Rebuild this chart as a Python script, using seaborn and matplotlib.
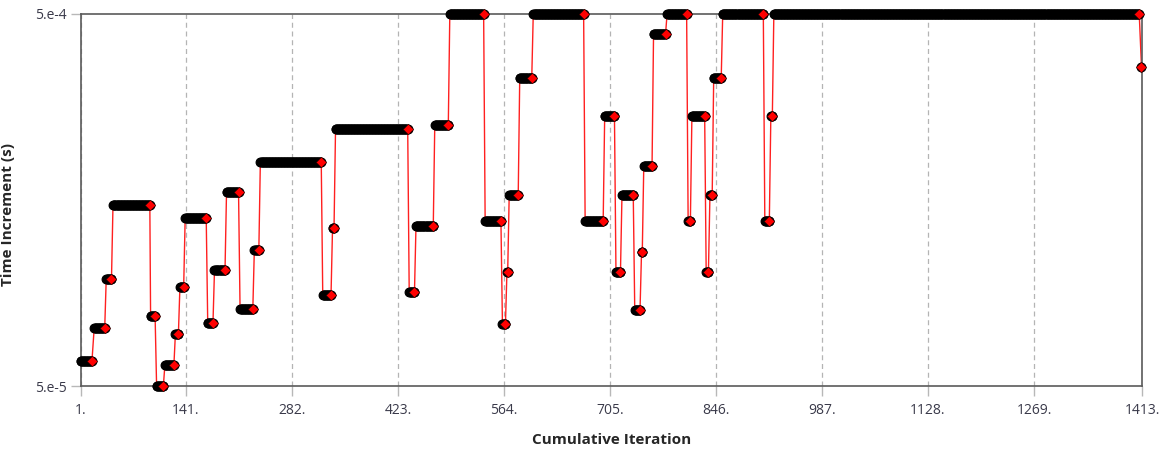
import numpy as np
import pandas as pd
import matplotlib
matplotlib.use("Agg")
import matplotlib.pyplot as plt
from matplotlib.ticker import FixedLocator, NullLocator, FixedFormatter
import seaborn as sns

# Sub-steps of the solve: first and last cumulative iteration of each
# sub-step and the time increment it used (s).
substep_first = [1, 19, 35, 44, 94, 102, 113, 127, 133, 140, 170, 179, 195, 213, 232, 240,
                 323, 336, 340, 438, 447, 472, 492, 539, 562, 568, 571, 585, 603, 672, 698, 713,
                 721, 738, 747, 750, 763, 781, 809, 814, 833, 838, 843, 855, 911, 919, 923, 1412]
substep_last = [16, 33, 42, 93, 100, 111, 125, 131, 138, 168, 177, 193, 211, 230, 238, 321,
                334, 338, 436, 445, 470, 490, 537, 560, 566, 569, 583, 601, 670, 696, 711, 719,
                736, 745, 748, 761, 779, 807, 812, 831, 836, 841, 853, 909, 917, 921, 1409, 1412]
time_increment = [5.83e-5, 7.16e-5, 9.70e-5, 1.536e-4, 7.73e-5, 5.0e-5, 5.69e-5, 6.90e-5,
                  9.21e-5, 1.414e-4, 7.40e-5, 1.023e-4, 1.659e-4, 8.07e-5, 1.161e-4, 2.0e-4,
                  8.78e-5, 1.327e-4, 2.454e-4, 8.93e-5, 1.344e-4, 2.52e-4, 5.0e-4, 1.391e-4,
                  7.34e-5, 1.014e-4, 1.631e-4, 3.365e-4, 5.0e-4, 1.391e-4, 2.655e-4, 1.014e-4,
                  1.631e-4, 8.0e-5, 1.144e-4, 1.952e-4, 4.43e-4, 5.0e-4, 1.391e-4, 2.655e-4,
                  1.014e-4, 1.631e-4, 3.365e-4, 5.0e-4, 1.391e-4, 2.655e-4, 5.0e-4, 3.61e-4]

x_ticks = [1, 141, 282, 423, 564, 705, 846, 987, 1128, 1269, 1413]
x_tick_labels = ["1.", "141.", "282.", "423.", "564.", "705.", "846.", "987.", "1128.", "1269.", "1413."]
y_ticks = [5e-5, 5e-4]
y_tick_labels = ["5.e-5", "5.e-4"]

# Every iteration of a sub-step shares that sub-step's increment.
iters = np.concatenate([np.arange(a, b + 1) for a, b in zip(substep_first, substep_last)])
iter_dt = np.concatenate([np.full(b - a + 1, v) for a, b, v in
                          zip(substep_first, substep_last, time_increment)])
iter_df = pd.DataFrame({"iteration": iters, "dt": iter_dt})

# Path of the increment history: start and end of each sub-step in order.
path_x, path_y = [], []
for a, b, v in zip(substep_first, substep_last, time_increment):
    path_x += [a, b]
    path_y += [v, v]
path_df = pd.DataFrame({"iteration": path_x, "dt": path_y})
conv_df = pd.DataFrame({"iteration": substep_last, "dt": time_increment})

sns.set_theme(style="white")
plt.rcParams["font.family"] = ["Open Sans", "DejaVu Sans"]

fig = plt.figure(figsize=(11.64, 4.5), dpi=100)
ax = fig.add_axes([0.0693, 0.1422, 0.912, 0.8267])

ax.set_yscale("log")
ax.set_xlim(1, 1413)
ax.set_ylim(5e-5, 5e-4)

sns.lineplot(data=path_df, x="iteration", y="dt", sort=False, estimator=None,
             color="#ff2020", linewidth=1.0, ax=ax, zorder=2)
sns.scatterplot(data=iter_df, x="iteration", y="dt", color="black", edgecolor="black",
                s=40, linewidth=0.8, marker="o", ax=ax, zorder=3, clip_on=False)
sns.scatterplot(data=conv_df, x="iteration", y="dt", color="red", edgecolor="#300000",
                s=28, linewidth=0.4, marker="D", ax=ax, zorder=4, clip_on=False)

ax.xaxis.set_major_locator(FixedLocator(x_ticks))
ax.xaxis.set_major_formatter(FixedFormatter(x_tick_labels))
ax.yaxis.set_major_locator(FixedLocator(y_ticks))
ax.yaxis.set_major_formatter(FixedFormatter(y_tick_labels))
ax.yaxis.set_minor_locator(NullLocator())
ax.xaxis.set_minor_locator(NullLocator())

ax.grid(axis="x", color="#b4b4b4", linestyle=(0, (4, 3)), linewidth=0.9)
ax.grid(axis="y", visible=False)
ax.set_axisbelow(True)

for sp in ax.spines.values():
    sp.set_visible(True)
    sp.set_color("#5a5a5a")
    sp.set_linewidth(1.2)
    sp.set_zorder(2.5)

ax.tick_params(axis="both", which="major", length=7, width=1, color="#b8b8b8",
               labelsize=10, labelcolor="#3a3a4a", direction="out", pad=3,
               bottom=True, left=True)
ax.tick_params(axis="x", pad=5)

ax.set_xlabel("Cumulative Iteration", fontsize=11, fontweight="bold", color="#262626")
ax.set_ylabel("Time Increment (s)", fontsize=11, fontweight="bold", color="#262626")
ax.xaxis.set_label_coords(0.5, -0.125)
ax.yaxis.set_label_coords(-0.062, 0.46)

fig.savefig("out.png", dpi=100, facecolor="white")
